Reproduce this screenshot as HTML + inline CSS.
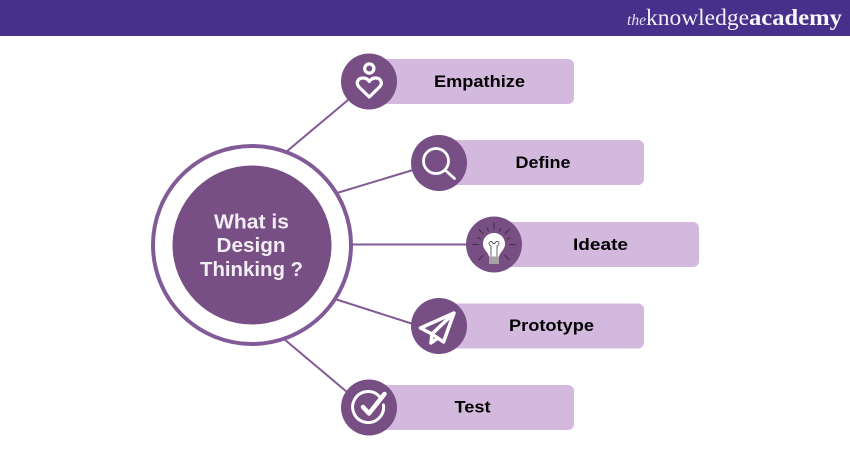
<!DOCTYPE html>
<html>
<head>
<meta charset="utf-8">
<style>
html,body{margin:0;padding:0;background:#fff;width:850px;height:450px;overflow:hidden}
svg{display:block}
text{font-family:"Liberation Sans",sans-serif;font-weight:700}
</style>
</head>
<body>
<svg width="850" height="450" viewBox="0 0 850 450" xmlns="http://www.w3.org/2000/svg">
<rect width="850" height="450" fill="#fff"/>
<rect width="850" height="36" fill="#46308b"/>
<text x="627" y="25" fill="#e6e2f0" style="font-family:'Liberation Serif',serif;font-style:italic;font-weight:400;font-size:16px" textLength="19" lengthAdjust="spacingAndGlyphs">the</text>
<text x="646" y="25" fill="#f2f0f7" style="font-family:'Liberation Serif',serif;font-weight:400;font-size:23px" textLength="103" lengthAdjust="spacingAndGlyphs">knowledge</text>
<text x="749" y="25" fill="#f7f6fa" style="font-family:'Liberation Serif',serif;font-weight:700;font-size:23px" textLength="93" lengthAdjust="spacingAndGlyphs">academy</text>

<g stroke="#825a97" stroke-width="2" fill="none">
<line x1="286" y1="152" x2="348" y2="100"/>
<line x1="337" y1="193" x2="413" y2="170"/>
<line x1="352" y1="244.5" x2="468" y2="244.5"/>
<line x1="335" y1="299" x2="413" y2="324"/>
<line x1="284" y1="339" x2="347" y2="392"/>
</g>

<circle cx="252" cy="245" r="99" fill="#fff" stroke="#825a97" stroke-width="4"/>
<circle cx="252" cy="245" r="79.500" fill="#784f85"/>
<g fill="#f3eef5" font-size="20.500" text-anchor="middle">
<text x="251.500" y="228.500" textLength="75" lengthAdjust="spacingAndGlyphs">What is</text>
<text x="251" y="252" textLength="69" lengthAdjust="spacingAndGlyphs">Design</text>
<text x="251.500" y="276" textLength="103" lengthAdjust="spacingAndGlyphs">Thinking ?</text>
</g>

<g fill="#d4b9de">
<rect x="369" y="59" width="205" height="45" rx="6"/>
<rect x="439" y="140" width="205" height="45" rx="6"/>
<rect x="494" y="222" width="205" height="45" rx="6"/>
<rect x="439" y="303.500" width="205" height="45" rx="6"/>
<rect x="369" y="385" width="205" height="45" rx="6"/>
</g>

<g fill="#784f85">
<circle cx="369" cy="81.500" r="28"/>
<circle cx="439" cy="163" r="28"/>
<circle cx="494" cy="244.500" r="28"/>
<circle cx="439" cy="326" r="28"/>
<circle cx="369" cy="407.500" r="28"/>
</g>

<g fill="#000" font-size="17" text-anchor="middle">
<text x="479.500" y="87" textLength="91" lengthAdjust="spacingAndGlyphs">Empathize</text>
<text x="543" y="168" textLength="55" lengthAdjust="spacingAndGlyphs">Define</text>
<text x="600.500" y="250" textLength="55" lengthAdjust="spacingAndGlyphs">Ideate</text>
<text x="551.500" y="331" textLength="85" lengthAdjust="spacingAndGlyphs">Prototype</text>
<text x="472.500" y="412.500" textLength="36" lengthAdjust="spacingAndGlyphs">Test</text>
</g>

<!-- Empathize icon -->
<g fill="none" stroke="#fff" stroke-width="3.200" stroke-linejoin="round" stroke-linecap="round">
<circle cx="369.300" cy="68.500" r="4.600"/>
<path d="M369.300 97 L359.500 87.500 C355 83 358 78 363 78 C366 78 368 79.500 369.300 81.500 C370.600 79.500 372.600 78 375.600 78 C380.600 78 383.600 83 379 87.500 Z"/>
</g>

<!-- Define icon -->
<g fill="none" stroke="#fff" stroke-width="2.800" stroke-linecap="round">
<circle cx="436" cy="161" r="12.500"/>
<line x1="445" y1="170" x2="454.500" y2="178.500"/>
</g>

<!-- Ideate icon -->
<g stroke="#3f3345" stroke-width="1.100" stroke-linecap="round">
<line x1="494" y1="223" x2="494" y2="229"/>
<line x1="494" y1="223" x2="494" y2="229" transform="rotate(45 494 244.500)"/>
<line x1="494" y1="223" x2="494" y2="229" transform="rotate(-45 494 244.500)"/>
<line x1="494" y1="223" x2="494" y2="229" transform="rotate(90 494 244.500)"/>
<line x1="494" y1="223" x2="494" y2="229" transform="rotate(-90 494 244.500)"/>
<line x1="494" y1="223" x2="494" y2="229" transform="rotate(135 494 244.500)"/>
<line x1="494" y1="223" x2="494" y2="229" transform="rotate(-135 494 244.500)"/>
<line x1="494" y1="227" x2="494" y2="230" transform="rotate(22.500 494 244.500)"/>
<line x1="494" y1="227" x2="494" y2="230" transform="rotate(-22.500 494 244.500)"/>
<line x1="494" y1="227" x2="494" y2="230" transform="rotate(67.500 494 244.500)"/>
<line x1="494" y1="227" x2="494" y2="230" transform="rotate(-67.500 494 244.500)"/>
</g>
<path d="M489 256.500 C488 252 483 249.500 483 244 C483 237.500 488 233 494 233 C500 233 505 237.500 505 244 C505 249.500 500 252 499 256.500 Z" fill="#fff"/>
<rect x="489" y="256.500" width="10" height="7.500" fill="#a5a3a6"/>
<path d="M491 256.500 L491 245.500 M497 256.500 L497 245.500 M491 245.500 a2 2 0 1 1 2-2 L495 243.500 a2 2 0 1 1 2 2" fill="none" stroke="#555" stroke-width="0.900"/>

<!-- Prototype icon -->
<g fill="none" stroke="#fff" stroke-width="3.500" stroke-linejoin="round">
<path d="M454 313 L420.500 328 L432 334 L443.500 342 Z"/>
<path d="M454 313 L432 334 L431 343 L438 338"/>
</g>

<!-- Test icon -->
<g fill="none" stroke="#fff" stroke-linecap="round" stroke-linejoin="round">
<path d="M379.500 396.500 A15.500 15.500 0 1 0 383.500 405" stroke-width="3"/>
<path d="M363 407 L369 413.500 L384.500 394" stroke-width="4.500"/>
</g>
</svg>
</body>
</html>
